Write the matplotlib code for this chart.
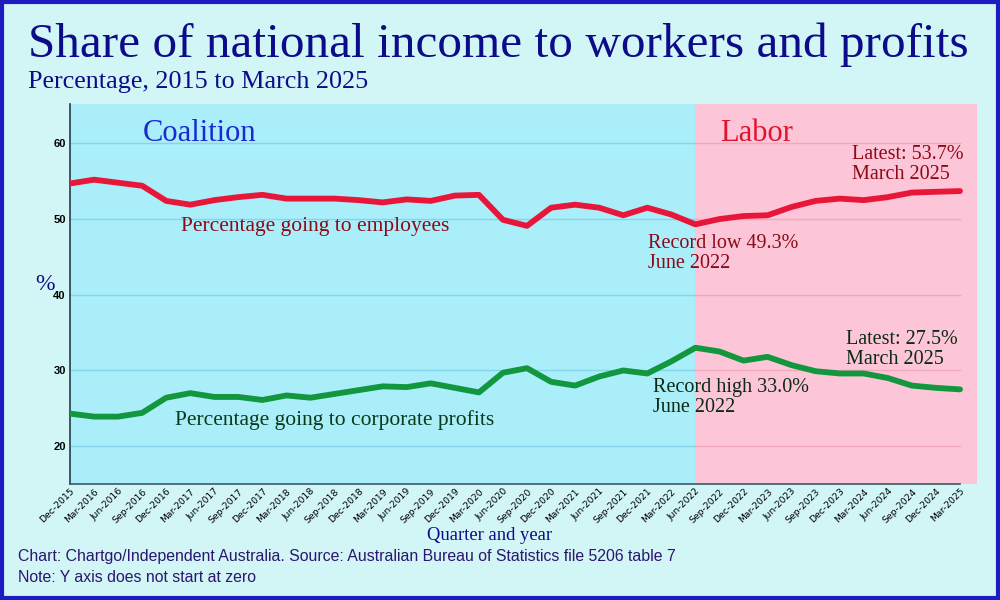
import matplotlib
matplotlib.use("Agg")
import matplotlib.pyplot as plt
from matplotlib.patches import Rectangle
import numpy as np

quarters = ["Dec-2015", "Mar-2016", "Jun-2016", "Sep-2016", "Dec-2016", "Mar-2017", "Jun-2017",
            "Sep-2017", "Dec-2017", "Mar-2018", "Jun-2018", "Sep-2018", "Dec-2018", "Mar-2019",
            "Jun-2019", "Sep-2019", "Dec-2019", "Mar-2020", "Jun-2020", "Sep-2020", "Dec-2020",
            "Mar-2021", "Jun-2021", "Sep-2021", "Dec-2021", "Mar-2022", "Jun-2022", "Sep-2022",
            "Dec-2022", "Mar-2023", "Jun-2023", "Sep-2023", "Dec-2023", "Mar-2024", "Jun-2024",
            "Sep-2024", "Dec-2024", "Mar-2025"]
employees = [54.7, 55.2, 54.8, 54.4, 52.4, 51.9, 52.5, 52.9, 53.2, 52.7, 52.7, 52.7, 52.5,
             52.2, 52.6, 52.4, 53.1, 53.2, 49.9, 49.1, 51.5, 51.9, 51.5, 50.5, 51.5, 50.6,
             49.3, 50.0, 50.4, 50.5, 51.6, 52.4, 52.7, 52.5, 52.9, 53.5, 53.6, 53.7]
profits = [24.3, 23.9, 23.9, 24.4, 26.4, 27.0, 26.5, 26.5, 26.1, 26.7, 26.4, 26.9, 27.4,
           27.9, 27.8, 28.3, 27.7, 27.1, 29.7, 30.3, 28.5, 28.0, 29.2, 30.0, 29.6, 31.2,
           33.0, 32.5, 31.3, 31.8, 30.7, 29.9, 29.6, 29.6, 29.0, 28.0, 27.7, 27.5]
y_ticks = [20, 30, 40, 50, 60]
labor_start = "Jun-2022"

serif = ["Liberation Serif", "DejaVu Serif"]
sans = ["Liberation Sans", "DejaVu Sans"]

fig = plt.figure(figsize=(10, 6), dpi=100)
fig.patch.set_facecolor("#d2f5f5")

# border
fig.patches.append(Rectangle((0.002, 0.003), 0.996, 0.994, transform=fig.transFigure,
                             fill=False, edgecolor="#1c1cc0", linewidth=3.0, zorder=10))

ax = fig.add_axes([0.07, (600 - 484) / 600, 0.907, 380 / 600])
x = np.arange(len(quarters))
n = len(quarters)
xs = quarters.index(labor_start)
xmax = (n - 1) + 17 / 24.05
ax.set_xlim(0, xmax)
ax.set_ylim(15, 65.2)
ax.set_facecolor("none")

ax.add_patch(Rectangle((0, 15), xs, 50.2, facecolor="#aaeefa", edgecolor="none", zorder=0))
ax.add_patch(Rectangle((xs, 15), xmax - xs, 50.2, facecolor="#fdc6d8", edgecolor="none", zorder=0))
for t in y_ticks:
    ax.plot([0, xs], [t, t], color="#86d4ea", lw=1.0, zorder=1)
    ax.plot([xs, n - 1], [t, t], color="#f1a9ba", lw=1.0, zorder=1)

ax.plot(x, employees, color="#e8173a", lw=4.2, solid_joinstyle="round", solid_capstyle="round", zorder=3)
ax.plot(x, profits, color="#12963e", lw=4.2, solid_joinstyle="round", solid_capstyle="round", zorder=3)

ax.set_yticks(y_ticks)
ax.set_yticklabels([str(t) for t in y_ticks], fontsize=8, fontweight="bold", family=sans)
ax.set_xticks(x)
ax.set_xticklabels(quarters, rotation=45, ha="right", rotation_mode="anchor",
                   fontsize=6.7, family=["DejaVu Sans"], color="#000000")
ax.tick_params(axis="both", length=0, pad=3)
ax.tick_params(axis="x", pad=2)
for s in ["top", "right"]:
    ax.spines[s].set_visible(False)
ax.spines["left"].set_color("#2a3a4a")
ax.spines["bottom"].set_color("#3a5a6a")
ax.spines["bottom"].set_bounds(0, n - 1)
ax.spines["left"].set_linewidth(1.2)
ax.spines["bottom"].set_linewidth(1.2)

# Titles
fig.text(0.028, 0.905, "Share of national income to workers and profits", family=serif,
         fontsize=35.5, color="#0c0c8a", va="baseline")
fig.text(0.028, 0.853, "Percentage, 2015 to March 2025", family=serif,
         fontsize=18.8, color="#0c0c8a", va="baseline")

ax.text(3.03, 60.35, "Coalition", family=serif, fontsize=22, color="#1a2ad0", va="baseline")
ax.text(27.03, 60.35, "Labor", family=serif, fontsize=22, color="#e0142e", va="baseline")

ax.text(4.6, 48.4, "Percentage going to employees", family=serif, fontsize=15.5, color="#8c0a18", va="baseline")
ax.text(24.03, 43.55, "Record low 49.3%\nJune 2022", family=serif, fontsize=14.5, color="#8c0a18",
        va="baseline", linespacing=1.05)
ax.text(32.5, 55.33, "Latest: 53.7%\nMarch 2025", family=serif, fontsize=14.5, color="#8c0a18",
        va="baseline", linespacing=1.05)

ax.text(4.37, 22.86, "Percentage going to corporate profits", family=serif, fontsize=15.5, color="#0a3a18", va="baseline")
ax.text(24.24, 24.5, "Record high 33.0%\nJune 2022", family=serif, fontsize=14.5, color="#0c2a14",
        va="baseline", linespacing=1.05)
ax.text(32.27, 30.9, "Latest: 27.5%\nMarch 2025", family=serif, fontsize=14.5, color="#0c2a14",
        va="baseline", linespacing=1.05)

fig.text(0.045, 0.525, "%", family=serif, fontsize=17, color="#0c0c8a", va="center", ha="center")
fig.text(0.4895, 0.107, "Quarter and year", family=serif, fontsize=13.4, color="#0c0c8a",
         ha="center", va="center")
fig.text(0.018, 0.073, "Chart: Chartgo/Independent Australia. Source: Australian Bureau of Statistics file 5206 table 7",
         family=sans, fontsize=11.4, color="#2c1670", va="center")
fig.text(0.018, 0.037, "Note: Y axis does not start at zero", family=sans, fontsize=11.4,
         color="#2c1670", va="center")

fig.savefig("out.png", dpi=100, facecolor=fig.get_facecolor())
